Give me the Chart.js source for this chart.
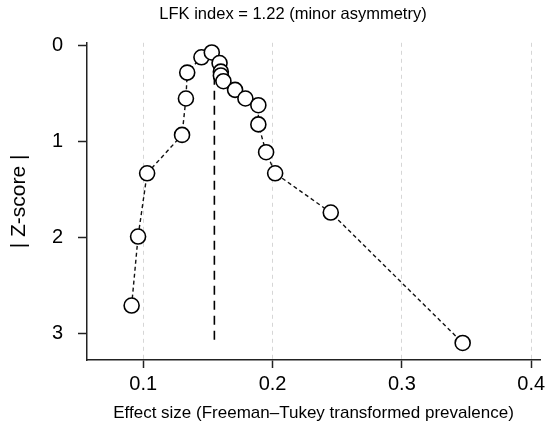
<!DOCTYPE html>
<html>
<head>
<meta charset="utf-8">
<title>LFK index - Doi plot</title>
<script src="https://cdn.jsdelivr.net/npm/chart.js@4.4.1/dist/chart.umd.min.js"></script>
<style>
    html, body { margin: 0; padding: 0; background: #fff; }
    #wrap { width: 550px; height: 432px; }
</style>
</head>
<body>
<div id="wrap"><canvas id="doiChart" width="550" height="432"></canvas></div>
<script>
// Doi plot data
const effectSize = [0.091, 0.096, 0.103, 0.130, 0.133, 0.134, 0.145, 0.153, 0.159, 0.160,
                    0.160, 0.162, 0.171, 0.179, 0.189, 0.189, 0.195, 0.202, 0.245, 0.347];
const zScore = [2.71, 1.99, 1.33, 0.93, 0.55, 0.28, 0.12, 0.07, 0.18, 0.27,
                0.31, 0.37, 0.46, 0.55, 0.62, 0.82, 1.11, 1.33, 1.74, 3.10];
const meanEffect = 0.155;
const xTicks = [0.1, 0.2, 0.3, 0.4];
const yTicks = [0, 1, 2, 3];

const titleText = 'LFK index = 1.22 (minor asymmetry)';
const xTitle = 'Effect size (Freeman\u2013Tukey transformed prevalence)';
const yTitle = '| Z-score |';

document.addEventListener('DOMContentLoaded', () => {
    Chart.defaults.font.family = '"Liberation Sans", Arial, Helvetica, sans-serif';
    Chart.defaults.color = '#000';

    const points = effectSize.map((x, i) => ({ x: x, y: zScore[i] }));
    const meanLine = [
        { x: meanEffect, y: 0 },
        { x: meanEffect, y: Math.max(...zScore) }
    ];

    const ctx = document.getElementById('doiChart').getContext('2d');
    new Chart(ctx, {
        type: 'line',
        data: {
            datasets: [
                {
                    label: 'Studies',
                    data: points,
                    borderColor: '#111',
                    borderWidth: 1.4,
                    borderDash: [4, 3],
                    tension: 0,
                    pointRadius: 7.5,
                    pointBorderWidth: 1.6,
                    pointBorderColor: '#000',
                    pointBackgroundColor: '#fff',
                    clip: false
                },
                {
                    label: 'Mean effect',
                    data: meanLine,
                    borderColor: '#000',
                    borderWidth: 1.6,
                    borderDash: [9, 6],
                    pointRadius: 0,
                    clip: false
                }
            ]
        },
        options: {
            responsive: false,
            animation: false,
            layout: {
                padding: { left: 46, right: 10, top: 0, bottom: 0 }
            },
            plugins: {
                legend: { display: false },
                tooltip: { enabled: false },
                title: {
                    display: true,
                    text: titleText,
                    color: '#000',
                    font: { size: 16.5, weight: 'normal' },
                    padding: { top: 5, bottom: 18 }
                }
            },
            scales: {
                x: {
                    type: 'linear',
                    min: 0.0565,
                    max: 0.4068,
                    afterBuildTicks: (scale) => {
                        scale.ticks = xTicks.map(v => ({ value: v }));
                    },
                    afterFit: (scale) => { scale.height = 72; },
                    ticks: {
                        font: { size: 20 },
                        color: '#000',
                        padding: 4,
                        callback: (v) => String(v)
                    },
                    grid: {
                        color: '#d6d6d6',
                        lineWidth: 1,
                        tickColor: '#222',
                        tickWidth: 1.5,
                        tickLength: 8
                    },
                    border: {
                        display: true,
                        color: '#222',
                        width: 1.5,
                        dash: [4, 4]
                    },
                    title: {
                        display: true,
                        text: xTitle,
                        font: { size: 17 },
                        padding: { top: 0, bottom: 8 }
                    }
                },
                y: {
                    type: 'linear',
                    reverse: true,
                    min: -0.031,
                    max: 3.278,
                    afterBuildTicks: (scale) => {
                        scale.ticks = yTicks.map(v => ({ value: v }));
                    },
                    afterFit: (scale) => { scale.width = 41; },
                    ticks: {
                        font: { size: 20 },
                        color: '#000',
                        padding: 15,
                        callback: (v) => String(v)
                    },
                    grid: {
                        drawOnChartArea: false,
                        tickColor: '#222',
                        tickWidth: 1.5,
                        tickLength: 9
                    },
                    border: {
                        display: true,
                        color: '#222',
                        width: 1.5
                    },
                    title: {
                        display: true,
                        text: yTitle,
                        font: { size: 21 },
                        padding: { top: -39, bottom: 0 }
                    }
                }
            }
        }
    });
});
</script>
</body>
</html>
